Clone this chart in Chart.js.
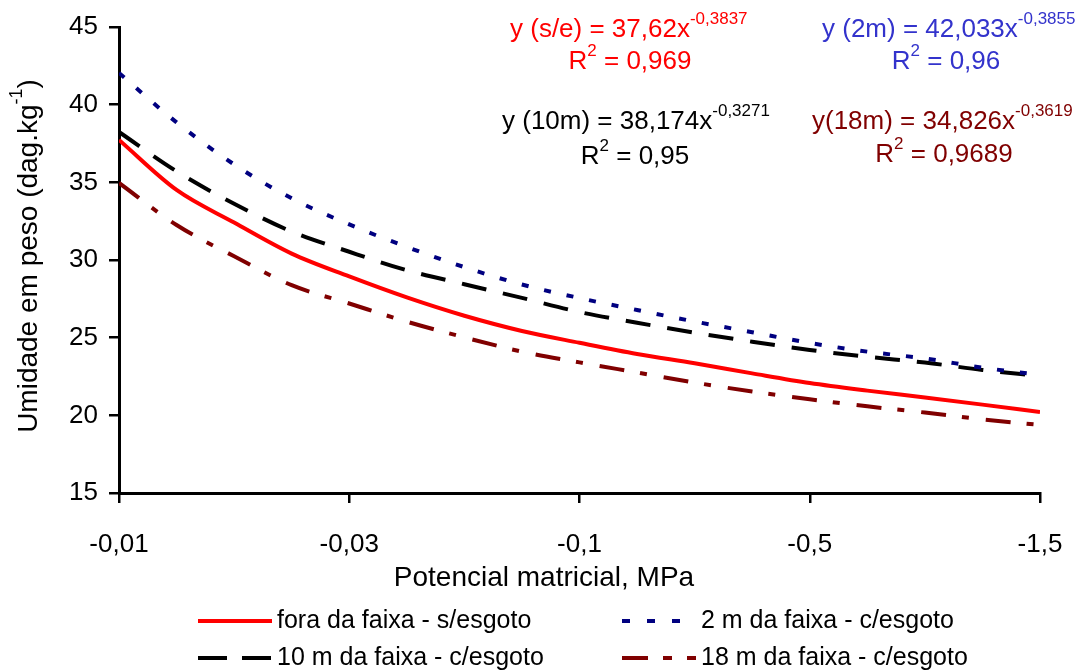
<!DOCTYPE html>
<html>
<head>
<meta charset="utf-8">
<script src="https://cdn.jsdelivr.net/npm/chart.js@4.4.1/dist/chart.umd.min.js"></script>
<style>
  html, body { margin: 0; padding: 0; background: #fff; }
  #wrap { width: 1078px; height: 672px; }
</style>
</head>
<body>
<div id="wrap"><canvas id="myChart" width="1078" height="672"></canvas></div>
<script>
// x axis: 5 equally spaced categories of matric potential
var xLabels = ["-0,01", "-0,03", "-0,1", "-0,5", "-1,5"];
// positions along the axis where the curves were read (1 = first tick, 5 = last)
var xPos = [1, 1.25, 1.5, 1.75, 2, 2.25, 2.5, 2.75, 3, 3.25, 3.5, 3.75, 4, 4.25, 4.5, 4.75, 5];

var foraFaixa = [37.73, 34.51, 32.41, 30.41, 28.94, 27.59, 26.41, 25.43, 24.67, 23.95, 23.35, 22.70, 22.08, 21.59, 21.15, 20.69, 20.21];
var faixa2m   = [42.04, 38.86, 36.15, 33.97, 32.29, 30.84, 29.54, 28.42, 27.55, 26.78, 26.04, 25.35, 24.66, 24.10, 23.66, 23.07, 22.60];
var faixa10m  = [38.24, 35.71, 33.62, 31.83, 30.53, 29.34, 28.44, 27.56, 26.65, 25.96, 25.32, 24.74, 24.21, 23.77, 23.40, 22.92, 22.53];
var faixa18m  = [34.96, 32.25, 30.24, 28.38, 27.20, 26.03, 25.02, 24.10, 23.41, 22.76, 22.11, 21.53, 21.03, 20.58, 20.18, 19.74, 19.38];

var seriesNames = ["fora da faixa - s/esgoto", "2 m da faixa - c/esgoto", "10 m da faixa - c/esgoto", "18 m da faixa - c/esgoto"];

var FONT = "'Liberation Sans', Arial, sans-serif";

function pts(vals) {
    return vals.map(function (v, i) { return { x: xPos[i], y: v }; });
}

// text with superscripts: parts = [[text, isSup], ...]
function drawRich(ctx, parts, x, y, size, supSize, color, align) {
    ctx.save();
    ctx.fillStyle = color;
    ctx.textBaseline = "middle";
    ctx.textAlign = "left";
    var total = 0;
    parts.forEach(function (p) {
        ctx.font = (p[1] ? supSize : size) + "px " + FONT;
        total += ctx.measureText(p[0]).width;
    });
    var cx = align === "center" ? x - total / 2 : x;
    parts.forEach(function (p) {
        ctx.font = (p[1] ? supSize : size) + "px " + FONT;
        ctx.fillText(p[0], cx, p[1] ? y - size * 0.42 : y);
        cx += ctx.measureText(p[0]).width;
    });
    ctx.restore();
}

var extras = {
    id: "extras",
    afterDraw: function (chart) {
        var ctx = chart.ctx;
        // y axis title
        ctx.save();
        ctx.translate(29, 256);
        ctx.rotate(-Math.PI / 2);
        drawRich(ctx, [["Umidade em peso (dag.kg", false], ["-1", true], [")", false]], 0, 0, 28, 18, "#000", "center");
        ctx.restore();

        // x axis title
        drawRich(ctx, [["Potencial matricial, MPa", false]], 544, 578, 28, 18, "#000", "center");

        // regression equations
        drawRich(ctx, [["y (s/e) = 37,62x", false], ["-0,3837", true]], 510, 30, 26, 17, "#FF0000", "left");
        drawRich(ctx, [["R", false], ["2", true], [" = 0,969", false]], 630, 62, 26, 17, "#FF0000", "center");
        drawRich(ctx, [["y (2m) = 42,033x", false], ["-0,3855", true]], 822, 30, 26, 17, "#3333CC", "left");
        drawRich(ctx, [["R", false], ["2", true], [" = 0,96", false]], 946, 62, 26, 17, "#3333CC", "center");
        drawRich(ctx, [["y (10m) = 38,174x", false], ["-0,3271", true]], 502, 122, 26, 17, "#000000", "left");
        drawRich(ctx, [["R", false], ["2", true], [" = 0,95", false]], 635, 157, 26, 17, "#000000", "center");
        drawRich(ctx, [["y(18m) = 34,826x", false], ["-0,3619", true]], 812, 122, 26, 17, "#800000", "left");
        drawRich(ctx, [["R", false], ["2", true], [" = 0,9689", false]], 944, 155, 26, 17, "#800000", "center");

        // legend, 2 x 2
        var cols = [198, 622], rows = [621, 658];
        chart.data.datasets.forEach(function (ds, i) {
            var lx = cols[i % 2], ly = rows[Math.floor(i / 2)];
            ctx.save();
            ctx.strokeStyle = ds.borderColor;
            ctx.lineWidth = 4;
            ctx.setLineDash(ds.legendDash || []);
            ctx.beginPath();
            ctx.moveTo(lx, ly);
            ctx.lineTo(lx + 74, ly);
            ctx.stroke();
            ctx.restore();
            ctx.save();
            ctx.fillStyle = "#000";
            ctx.font = "25px " + FONT;
            ctx.textBaseline = "middle";
            ctx.fillText(ds.label, lx + 79, ly);
            ctx.restore();
        });
    }
};

var ctx = document.getElementById("myChart").getContext("2d");

var myChart = new Chart(ctx, {
    type: "line",
    data: {
        datasets: [{
            label: seriesNames[0],
            data: pts(foraFaixa),
            borderColor: "#FF0000",
            borderWidth: 4,
            legendDash: []
        }, {
            label: seriesNames[1],
            data: pts(faixa2m),
            borderColor: "#000080",
            borderWidth: 4,
            borderDash: [7, 16],
            legendDash: [8, 17]
        }, {
            label: seriesNames[2],
            data: pts(faixa10m),
            borderColor: "#000000",
            borderWidth: 4,
            borderDash: [25, 17],
            legendDash: [29, 15]
        }, {
            label: seriesNames[3],
            data: pts(faixa18m),
            borderColor: "#800000",
            borderWidth: 4,
            borderDash: [25, 16, 7, 17],
            legendDash: [26, 15, 9, 15]
        }]
    },
    options: {
        responsive: false,
        animation: false,
        devicePixelRatio: 1,
        layout: { padding: { left: 0, right: 38, top: 27, bottom: 77 } },
        elements: {
            point: { radius: 0 },
            line: { tension: 0.4, cubicInterpolationMode: "monotone", fill: false }
        },
        plugins: {
            legend: { display: false },
            tooltip: { enabled: false }
        },
        scales: {
            x: {
                type: "linear",
                min: 1,
                max: 5,
                ticks: {
                    stepSize: 1,
                    color: "#000",
                    font: { family: FONT, size: 26 },
                    padding: 26,
                    maxRotation: 0,
                    callback: function (v) { return xLabels[v - 1]; }
                },
                grid: { drawOnChartArea: false, color: "#000", lineWidth: 2.5, tickLength: 10 },
                border: { color: "#000", width: 3 },
                afterFit: function (scale) {
                    scale.height = 102;
                    scale.paddingLeft = 0;
                    scale.paddingRight = 0;
                }
            },
            y: {
                min: 15,
                max: 45,
                ticks: {
                    stepSize: 5,
                    color: "#000",
                    font: { family: FONT, size: 26 },
                    padding: 11
                },
                grid: { drawOnChartArea: false, color: "#000", lineWidth: 2.5, tickLength: 10 },
                border: { color: "#000", width: 3 },
                afterFit: function (scale) { scale.width = 119; }
            }
        }
    },
    plugins: [extras]
});
</script>
</body>
</html>
